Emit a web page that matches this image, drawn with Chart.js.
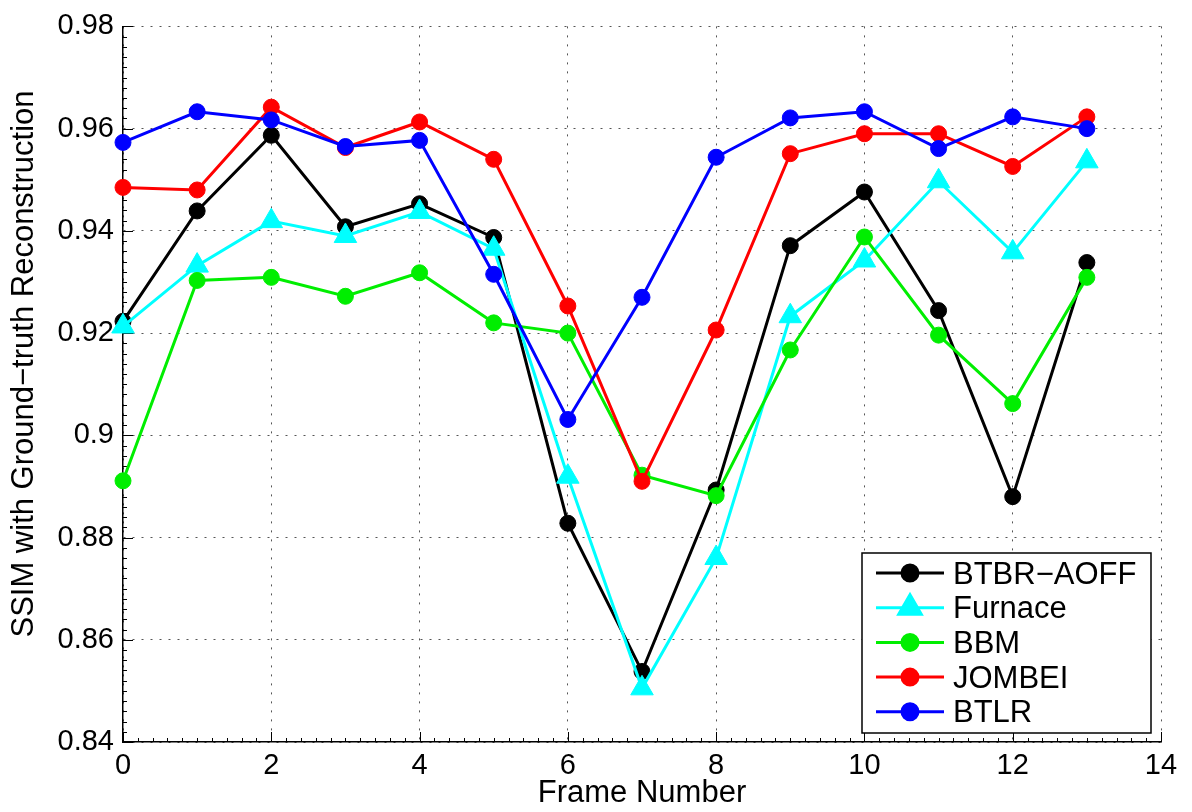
<!DOCTYPE html>
<html>
<head>
<meta charset="utf-8">
<title>SSIM with Ground-truth Reconstruction</title>
<script src="https://cdn.jsdelivr.net/npm/chart.js@4.4.1/dist/chart.umd.min.js"></script>
<style>
    html, body { margin: 0; padding: 0; background: #fff; }
    canvas { display: block; }
</style>
</head>
<body>
<canvas id="ssimCanvas" width="1192" height="812"></canvas>
<script>
// values
const frames = [0, 1, 2, 3, 4, 5, 6, 7, 8, 9, 10, 11, 12, 13];
const btbrAoff = [0.9223, 0.9439, 0.9587, 0.9408, 0.9453, 0.9387, 0.8828, 0.8538, 0.8893, 0.9371, 0.9476, 0.9244, 0.8880, 0.9338];
const furnace  = [0.9213, 0.9332, 0.9419, 0.9390, 0.9437, 0.9365, 0.8919, 0.8505, 0.8760, 0.9233, 0.9342, 0.9497, 0.9358, 0.9536];
const bbm      = [0.8911, 0.9303, 0.9309, 0.9272, 0.9318, 0.9220, 0.9200, 0.8922, 0.8882, 0.9167, 0.9388, 0.9196, 0.9062, 0.9309];
const jombei   = [0.9485, 0.9480, 0.9642, 0.9563, 0.9613, 0.9540, 0.9253, 0.8910, 0.9206, 0.9551, 0.9590, 0.9590, 0.9526, 0.9623];
const btlr     = [0.9573, 0.9633, 0.9617, 0.9565, 0.9577, 0.9315, 0.9031, 0.9270, 0.9544, 0.9621, 0.9633, 0.9561, 0.9623, 0.9600];

const seriesNames = ["BTBR\u2212AOFF", "Furnace", "BBM", "JOMBEI", "BTLR"];
const xTickValues = [0, 2, 4, 6, 8, 10, 12, 14];
const yTickValues = [0.84, 0.86, 0.88, 0.9, 0.92, 0.94, 0.96, 0.98];

const FONT = "'Liberation Sans', Arial, Helvetica, sans-serif";

const toPoints = arr => arr.map((v, i) => ({ x: frames[i], y: v }));

let makeSet = (label, values, color, style, radius, order) => ({
    label,
    data: toPoints(values),
    borderColor: color,
    backgroundColor: color,
    pointBackgroundColor: color,
    pointBorderColor: color,
    pointBorderWidth: 1,
    pointStyle: style,
    pointRadius: radius,
    borderWidth: 3,
    tension: 0,
    clip: false,
    order
});

// inward major/minor ticks on the left and bottom axes (matlab look)
const axisTicks = {
    id: "axisTicks",
    beforeDatasetsDraw(chart) {
        const { ctx, chartArea: a, scales: { x, y } } = chart;
        ctx.save();
        ctx.strokeStyle = "#000";
        ctx.lineWidth = 1;
        ctx.beginPath();
        // minor x: 0.2 steps
        for (let i = 0; i <= 70; i++) {
            let px = Math.round(x.getPixelForValue(i * 0.2)) + 0.5;
            let len = i % 10 === 0 ? 10 : 4;
            ctx.moveTo(px, a.bottom);
            ctx.lineTo(px, a.bottom - len);
        }
        // minor y: 0.002 steps
        for (let i = 0; i <= 70; i++) {
            let py = Math.round(y.getPixelForValue(0.84 + i * 0.002)) + 0.5;
            let len = i % 10 === 0 ? 10 : 4;
            ctx.moveTo(a.left, py);
            ctx.lineTo(a.left + len, py);
        }
        ctx.stroke();
        ctx.restore();
    }
};

// y title, drawn by hand so it can sit where the original one sits
const yTitle = {
    id: "yTitle",
    afterDraw(chart) {
        const { ctx } = chart;
        ctx.save();
        ctx.translate(24, 364);
        ctx.rotate(-Math.PI / 2);
        ctx.font = `31px ${FONT}`;
        ctx.fillStyle = "#000";
        ctx.textAlign = "center";
        ctx.textBaseline = "middle";
        ctx.fillText("SSIM with Ground\u2212truth Reconstruction", 0, 0);
        ctx.restore();
    }
};

// legend box in the lower right corner of the plot
const boxLegend = {
    id: "boxLegend",
    afterDraw(chart) {
        const { ctx } = chart;
        const bx = 862, by = 553, bw = 289, bh = 180;
        const rowH = 34.7;
        ctx.save();
        ctx.fillStyle = "#fff";
        ctx.fillRect(bx, by, bw, bh);
        ctx.strokeStyle = "#000";
        ctx.lineWidth = 1.5;
        ctx.strokeRect(bx, by, bw, bh);

        chart.data.datasets.forEach((ds, i) => {
            let cy = by + 20 + i * rowH;
            ctx.strokeStyle = ds.borderColor;
            ctx.lineWidth = 3;
            ctx.beginPath();
            ctx.moveTo(876, cy);
            ctx.lineTo(944, cy);
            ctx.stroke();
            ctx.fillStyle = ds.borderColor;
            Chart.helpers.drawPoint(ctx, {
                pointStyle: ds.pointStyle,
                radius: ds.pointRadius,
                borderWidth: 1,
                rotation: 0
            }, 910, cy);
            ctx.fill();

            ctx.fillStyle = "#000";
            ctx.font = `31px ${FONT}`;
            ctx.textAlign = "left";
            ctx.textBaseline = "middle";
            ctx.fillText(ds.label, 953, cy + 2);
        });
        ctx.restore();
    }
};

window.addEventListener("load", () => {
    window.ssimChart = new Chart(document.getElementById("ssimCanvas").getContext("2d"), {
        type: "line",
        data: {
            datasets: [
                makeSet(seriesNames[0], btbrAoff, "#000000", "circle", 8, 5),
                makeSet(seriesNames[1], furnace, "#00ffff", "triangle", 13, 4),
                makeSet(seriesNames[2], bbm, "#00ee00", "circle", 8, 3),
                makeSet(seriesNames[3], jombei, "#ff0000", "circle", 8, 2),
                makeSet(seriesNames[4], btlr, "#0000ff", "circle", 8, 1)
            ]
        },
        options: {
            responsive: false,
            devicePixelRatio: 1,
            animation: false,
            layout: { padding: { top: 21, right: 31, left: 0, bottom: 0 } },
            plugins: {
                legend: { display: false },
                tooltip: { enabled: false }
            },
            scales: {
                x: {
                    type: "linear",
                    min: 0,
                    max: 14,
                    afterBuildTicks: s => { s.ticks = xTickValues.map(v => ({ value: v })); },
                    afterFit: s => { s.height = 70; },
                    ticks: {
                        color: "#000",
                        font: { family: FONT, size: 29 },
                        padding: 7,
                        maxRotation: 0
                    },
                    grid: { color: "#555", lineWidth: 1, drawTicks: false },
                    border: { display: true, color: "#000", width: 1.5, dash: [2, 7] },
                    title: {
                        display: true,
                        text: "Frame Number",
                        color: "#000",
                        font: { family: FONT, size: 31 },
                        padding: { top: 0, bottom: 0 }
                    }
                },
                y: {
                    type: "linear",
                    min: 0.84,
                    max: 0.98,
                    afterBuildTicks: s => { s.ticks = yTickValues.map(v => ({ value: v })); },
                    afterFit: s => { s.width = 123; },
                    ticks: {
                        color: "#000",
                        font: { family: FONT, size: 29 },
                        padding: 9,
                        callback: v => String(+v.toFixed(2))
                    },
                    grid: { color: "#555", lineWidth: 1, drawTicks: false },
                    border: { display: true, color: "#000", width: 1.5, dash: [2, 7] }
                }
            }
        },
        plugins: [axisTicks, yTitle, boxLegend]
    });
});
</script>
</body>
</html>
